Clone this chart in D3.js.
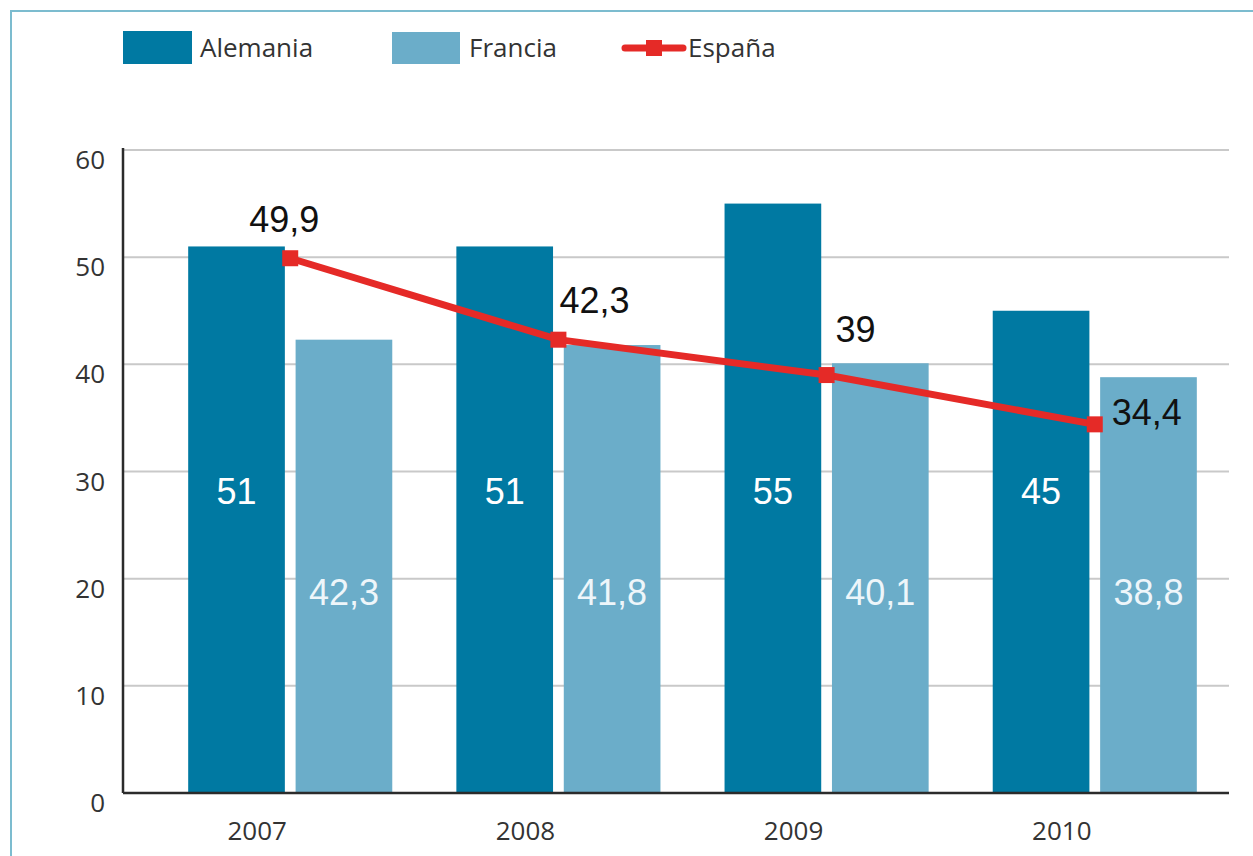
<!DOCTYPE html>
<html>
<head>
<meta charset="utf-8">
<script src="https://cdn.jsdelivr.net/npm/d3@7"></script>
<style>
  body { margin: 0; background: #fff; }
  svg { display: block; }
</style>
</head>
<body>
<script>
// data
var years = ["2007", "2008", "2009", "2010"];
var seriesNames = ["Alemania", "Francia"];
var alemania = [51, 51, 55, 45];
var francia = [42.3, 41.8, 40.1, 38.8];
var espana = [49.9, 42.3, 39, 34.4];
var yTicks = [0, 10, 20, 30, 40, 50, 60];

var w = 1253;
var h = 856;
var colors = { Alemania: "#0079a2", Francia: "#6badc9", Espana: "#e52a27" };
var tickFont = "'Open Sans', 'Noto Sans', sans-serif";
var valueFont = "'Liberation Sans', Arial, sans-serif";

var svg = d3.select("body")
    .append("svg")
    .attr("width", w)
    .attr("height", h);

// frame
svg.append("rect")
    .attr("x", 11).attr("y", 11)
    .attr("width", w).attr("height", h)
    .attr("fill", "none")
    .attr("stroke", "#7cbccf")
    .attr("stroke-width", 2);

var axisLeft = 123, axisRight = 1229;

var yScale = d3.scaleLinear()
    .domain([0, 60])
    .range([793, 150]);

var xScale = d3.scaleBand()
    .domain(years)
    .range([156, axisRight])
    .paddingInner(0.239)
    .paddingOuter(0.12);

var xSub = d3.scaleBand()
    .domain(seriesNames)
    .range([0, xScale.bandwidth()])
    .paddingInner(0.1);

// gridlines
svg.append("g")
    .selectAll("line")
    .data(yTicks.filter(d => d > 0))
    .join("line")
    .attr("x1", axisLeft)
    .attr("x2", axisRight)
    .attr("y1", d => yScale(d))
    .attr("y2", d => yScale(d))
    .attr("stroke", "#c9c9c9")
    .attr("stroke-width", 2);

// y tick labels
svg.append("g")
    .selectAll("text")
    .data(yTicks)
    .join("text")
    .attr("x", 105)
    .attr("y", d => yScale(d) + 19)
    .attr("text-anchor", "end")
    .attr("font-family", tickFont)
    .attr("font-size", "26px")
    .attr("fill", "#333")
    .text(d => d);

// bars
var rows = years.map((y, i) => ({ year: y, Alemania: alemania[i], Francia: francia[i] }));

var groups = svg.append("g")
    .selectAll("g")
    .data(rows)
    .join("g")
    .attr("transform", d => "translate(" + xScale(d.year) + ",0)");

groups.selectAll("rect")
    .data(d => seriesNames.map(k => ({ key: k, value: d[k] })))
    .join("rect")
    .attr("x", d => xSub(d.key))
    .attr("y", d => yScale(d.value))
    .attr("width", xSub.bandwidth())
    .attr("height", d => yScale(0) - yScale(d.value))
    .attr("fill", d => colors[d.key]);

groups.selectAll("text.val")
    .data(d => seriesNames.map(k => ({ key: k, value: d[k] })))
    .join("text")
    .attr("class", "val")
    .attr("x", d => xSub(d.key) + xSub.bandwidth() / 2)
    .attr("y", d => d.key === "Alemania" ? yScale(27) : yScale(17.5))
    .attr("text-anchor", "middle")
    .attr("font-family", valueFont)
    .attr("font-size", "36px")
    .attr("fill", d => d.key === "Alemania" ? "#ffffff" : "#eef6fa")
    .text(d => String(d.value).replace(".", ","));

// axes lines
svg.append("line")
    .attr("x1", axisLeft).attr("x2", axisLeft)
    .attr("y1", 148).attr("y2", yScale(0))
    .attr("stroke", "#2b2b2b").attr("stroke-width", 2.5);
svg.append("line")
    .attr("x1", axisLeft).attr("x2", axisRight)
    .attr("y1", yScale(0)).attr("y2", yScale(0))
    .attr("stroke", "#2b2b2b").attr("stroke-width", 2.5);

// x labels
svg.append("g")
    .selectAll("text")
    .data(years)
    .join("text")
    .attr("x", d => xScale(d) + xScale.bandwidth() / 2 - 33)
    .attr("y", 840)
    .attr("text-anchor", "middle")
    .attr("font-family", tickFont)
    .attr("font-size", "26px")
    .attr("fill", "#333")
    .text(d => d);

// España line
var pts = years.map((y, i) => ({ year: y, value: espana[i] }));
var cx = d => xScale(d.year) + xScale.bandwidth() / 2;

svg.append("path")
    .datum(pts)
    .attr("d", d3.line().x(cx).y(d => yScale(d.value)))
    .attr("fill", "none")
    .attr("stroke", colors.Espana)
    .attr("stroke-width", 7);

svg.append("g")
    .selectAll("rect")
    .data(pts)
    .join("rect")
    .attr("x", d => cx(d) - 8)
    .attr("y", d => yScale(d.value) - 8)
    .attr("width", 16)
    .attr("height", 16)
    .attr("fill", colors.Espana);

var labelDx = [-41, 1, 9, 17];
var labelDy = [-26, -27, -33, 1];
svg.append("g")
    .selectAll("text")
    .data(pts)
    .join("text")
    .attr("x", (d, i) => cx(d) + labelDx[i])
    .attr("y", (d, i) => yScale(d.value) + labelDy[i])
    .attr("font-family", valueFont)
    .attr("font-size", "36px")
    .attr("fill", "#111")
    .text(d => String(d.value).replace(".", ","));

// legend
var legend = svg.append("g");
legend.append("rect").attr("x", 123).attr("y", 31).attr("width", 69).attr("height", 33).attr("fill", colors.Alemania);
legend.append("text").attr("x", 200).attr("y", 57).text("Alemania");
legend.append("rect").attr("x", 392).attr("y", 32).attr("width", 68).attr("height", 32).attr("fill", colors.Francia);
legend.append("text").attr("x", 469).attr("y", 57).text("Francia");
legend.append("line").attr("x1", 625).attr("x2", 683).attr("y1", 48).attr("y2", 48)
    .attr("stroke", colors.Espana).attr("stroke-width", 7).attr("stroke-linecap", "round");
legend.append("rect").attr("x", 646).attr("y", 40).attr("width", 16).attr("height", 16).attr("fill", colors.Espana);
legend.append("text").attr("x", 688).attr("y", 57).text("España");
legend.selectAll("text")
    .attr("font-family", tickFont)
    .attr("font-size", "26px")
    .attr("fill", "#333");
</script>
</body>
</html>
